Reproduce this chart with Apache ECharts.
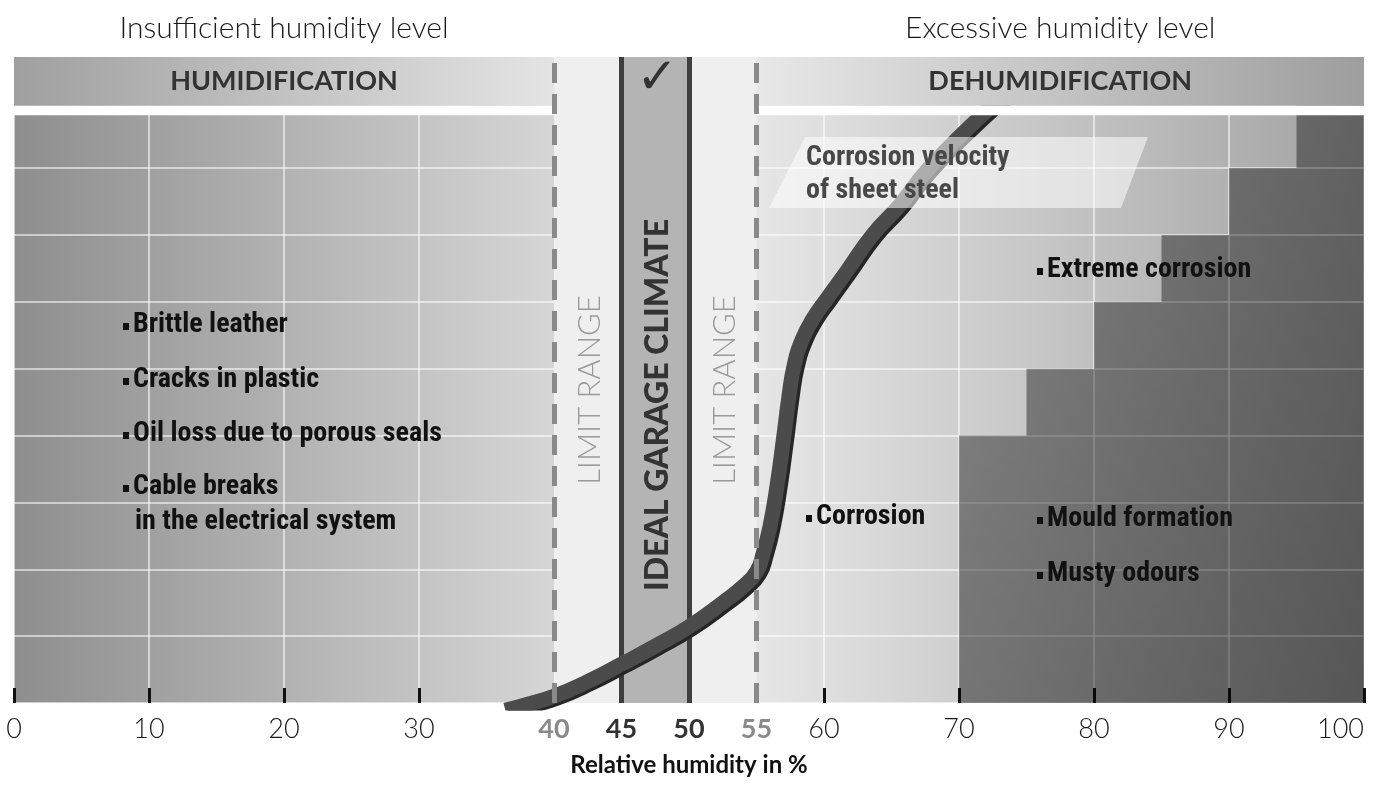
<!DOCTYPE html>
<html><head><meta charset="utf-8">
<script src="https://cdn.jsdelivr.net/npm/echarts@6/dist/echarts.min.js"></script>
<style>html,body{margin:0;padding:0;background:#fff}#c{width:1373px;height:796px}</style>
</head><body><div id="c"></div>
<script>
// ---------- data ----------
const xLabelValues = [0, 10, 20, 30, 40, 45, 50, 55, 60, 70, 80, 90, 100];
const xTickValues = [0, 10, 20, 30, 60, 70, 80, 90, 100];
const limitValues = [40, 55];
const idealValues = [45, 50];
const humidZone = [0, 40];
const dehumidZone = [55, 100];
const limitRanges = [[40, 45], [50, 55]];
const idealRange = [45, 50];
const curveX = [36.4, 38, 40, 42.5, 45, 47.5, 50, 52.5, 54, 55, 55.5, 56, 56.5, 57, 57.4, 57.8, 58.4, 59.2, 60.2, 61.7, 63.6, 65.6, 67.7, 71.7, 73.5];
const curveY = [-0.11, -0.02, 0.1, 0.32, 0.58, 0.85, 1.14, 1.5, 1.74, 1.96, 2.24, 2.64, 3.22, 3.95, 4.58, 5.06, 5.44, 5.75, 6.04, 6.46, 7.0, 7.44, 7.98, 8.79, 9.1];
const stairX = [70, 75, 80, 85, 90, 95, 100];
const stairY = [4, 5, 6, 7, 8, 9, 9];
const topTitles = ['Insufficient humidity level', 'Excessive humidity level'];
const zoneNames = ['HUMIDIFICATION', 'DEHUMIDIFICATION'];
const axisName = 'Relative humidity in %';
const leftNotes = ['Brittle leather', 'Cracks in plastic', 'Oil loss due to porous seals', 'Cable breaks'];
const leftNoteCont = 'in the electrical system';
const rightNotes = ['Extreme corrosion', 'Corrosion', 'Mould formation', 'Musty odours'];
const curveLabel = ['Corrosion velocity', 'of sheet steel'];
const idealLabel = 'IDEAL GARAGE CLIMATE';
const limitLabel = 'LIMIT RANGE';

// ---------- layout constants ----------
const Y_MAX = 9.66, PLOT_TOP = 8.79, BAND_BOTTOM = 8.93;
const LATO = 'Lato, "Open Sans", sans-serif';
const NARROW = '"Liberation Sans Narrow", "Arial Narrow", "Roboto Condensed", "DejaVu Sans Condensed", sans-serif';
const G = echarts.graphic;

const chart = echarts.init(document.getElementById('c'), null, {renderer: 'canvas'});

const curveData = curveX.map((x, i) => [x, curveY[i]]);
const stairData = stairX.map((x, i) => [x, stairY[i]]);

const option = {
  animation: false,
  grid: {
    left: 14, right: 9, top: 57, bottom: 93, show: true, borderWidth: 0,
    backgroundColor: new G.LinearGradient(0, 0, 1, 0, [
      {offset: 0, color: '#8e8e8e'},
      {offset: 0.4, color: '#d6d6d6'},
      {offset: 0.55, color: '#e6e6e6'},
      {offset: 1, color: '#a2a2a2'}
    ])
  },
  xAxis: {
    type: 'value', min: 0, max: 100, interval: 10,
    axisLine: {show: false},
    axisTick: {show: true, inside: true, length: 15, customValues: xTickValues, lineStyle: {color: '#111', width: 3}},
    splitLine: {show: true, lineStyle: {color: 'rgba(255,255,255,0.55)', width: 2}},
    axisLabel: {
      customValues: xLabelValues, margin: 13, fontFamily: LATO, fontWeight: 300, fontSize: 27, color: '#1a1a1a',
      alignMaxLabel: 'right',
      formatter: v => limitValues.includes(v) ? '{lim|' + v + '}' : idealValues.includes(v) ? '{ide|' + v + '}' : '' + v,
      rich: {
        lim: {fontFamily: LATO, fontWeight: 'bold', fontSize: 27, color: '#8a8a8a'},
        ide: {fontFamily: LATO, fontWeight: 'bold', fontSize: 27, color: '#333'}
      }
    },
    name: axisName, nameLocation: 'middle', nameGap: 50,
    nameTextStyle: {fontFamily: LATO, fontWeight: 'bold', fontSize: 24, color: '#111'}
  },
  yAxis: {
    type: 'value', min: 0, max: Y_MAX, interval: 1,
    axisLine: {show: false}, axisTick: {show: false}, axisLabel: {show: false},
    splitLine: {show: true, lineStyle: {color: 'rgba(255,255,255,0.55)', width: 2}}
  },
  series: [
    { // zone backgrounds in the middle column
      type: 'line', data: [], z: 1, silent: true,
      markArea: {
        silent: true, z: 1,
        data: [
          [{xAxis: limitRanges[0][0], yAxis: 0, itemStyle: {color: '#efefef'}}, {xAxis: limitRanges[0][1], yAxis: Y_MAX}],
          [{xAxis: limitRanges[1][0], yAxis: 0, itemStyle: {color: '#efefef'}}, {xAxis: limitRanges[1][1], yAxis: Y_MAX}],
          [{xAxis: idealRange[0], yAxis: 0, itemStyle: {color: '#b4b4b4'}}, {xAxis: idealRange[1], yAxis: Y_MAX}]
        ]
      }
    },
    { // mould staircase
      type: 'line', data: stairData, step: 'end', z: 2, silent: true, symbol: 'none',
      lineStyle: {width: 0},
      areaStyle: {
        opacity: 1,
        color: new G.LinearGradient(0, 0, 1, 1, [
          {offset: 0, color: 'rgba(0,0,0,0.36)'},
          {offset: 1, color: 'rgba(0,0,0,0.47)'}
        ])
      }
    },
    { // ideal range borders
      type: 'line', data: [], z: 3, silent: true,
      markLine: {
        silent: true, z: 3, symbol: 'none', label: {show: false},
        lineStyle: {color: '#3e3e3e', width: 5, type: 'solid'},
        data: idealValues.map(v => ({xAxis: v}))
      }
    },
    { // corrosion velocity curve
      type: 'line', data: curveData, z: 4, silent: true, symbol: 'none',
      smooth: 0.5, clip: true,
      lineStyle: {width: 15, color: '#4b4b4b', shadowColor: '#262626', shadowOffsetX: 3, shadowOffsetY: 2, shadowBlur: 0}
    },
    { // header bands
      type: 'line', data: [], z: 10, silent: true,
      markArea: {
        silent: true, z: 10,
        label: {show: true, position: 'inside', fontFamily: LATO, fontWeight: 'bold', fontSize: 27, color: '#333'},
        data: [
          [{name: zoneNames[0], xAxis: humidZone[0], yAxis: BAND_BOTTOM, itemStyle: {color: new G.LinearGradient(0, 0, 1, 0, [{offset: 0, color: '#a0a0a0'}, {offset: 1, color: '#e4e4e4'}])}}, {xAxis: humidZone[1], yAxis: Y_MAX}],
          [{name: zoneNames[1], xAxis: dehumidZone[0], yAxis: BAND_BOTTOM, itemStyle: {color: new G.LinearGradient(0, 0, 1, 0, [{offset: 0, color: '#e8e8e8'}, {offset: 1, color: '#9e9e9e'}])}}, {xAxis: dehumidZone[1], yAxis: Y_MAX}],
          [{name: '', xAxis: humidZone[0], yAxis: PLOT_TOP, itemStyle: {color: '#fff'}}, {xAxis: humidZone[1], yAxis: BAND_BOTTOM}],
          [{name: '', xAxis: dehumidZone[0], yAxis: PLOT_TOP, itemStyle: {color: '#fff'}}, {xAxis: dehumidZone[1], yAxis: BAND_BOTTOM}]
        ]
      }
    },
    { // limit range dashed borders
      type: 'line', data: [], z: 12, silent: true,
      markLine: {
        silent: true, z: 12, symbol: 'none', label: {show: false},
        lineStyle: {color: '#8a8a8a', width: 5, type: [20, 11]},
        data: limitValues.map(v => ({xAxis: v}))
      }
    }
  ]
};
chart.setOption(option);

// ---------- text annotations ----------
const px = (x, y) => chart.convertToPixel({gridIndex: 0}, [x, y]);
const humidCx = px((humidZone[0] + humidZone[1]) / 2, 0)[0];
const dehumidCx = px((dehumidZone[0] + dehumidZone[1]) / 2, 0)[0];
const idealCx = px((idealRange[0] + idealRange[1]) / 2, 0)[0];
const lim1Cx = px((limitRanges[0][0] + limitRanges[0][1]) / 2, 0)[0];
const lim2Cx = px((limitRanges[1][0] + limitRanges[1][1]) / 2, 0)[0];

function txt(text, x, y, o) {
  return {type: 'text', x, y, z: 100, silent: true,
    style: Object.assign({text, fill: '#111', fontFamily: NARROW, fontWeight: 'bold', fontSize: 28, align: 'left', verticalAlign: 'middle'}, o || {})};
}
function note(text, x, y) {
  return [
    {type: 'rect', z: 100, silent: true, shape: {x: x, y: y - 2, width: 6, height: 7}, style: {fill: '#111'}},
    txt(text, x + 10, y)
  ];
}
function rot(el) { el.rotation = Math.PI / 2; return el; }

const graphics = [
  txt(topTitles[0], humidCx, 28, {fontFamily: LATO, fontWeight: 300, fontSize: 30, align: 'center', fill: '#1a1a1a'}),
  txt(topTitles[1], dehumidCx, 28, {fontFamily: LATO, fontWeight: 300, fontSize: 30, align: 'center', fill: '#1a1a1a'}),
  txt('\u2713', idealCx + 2, 80, {fontFamily: '"DejaVu Sans", sans-serif', fontWeight: 'bold', fontSize: 50, align: 'center', fill: '#333'}),
  rot(txt(idealLabel, idealCx + 2, 405, {fontFamily: LATO, fontWeight: 900, fontSize: 32, align: 'center', fill: '#333'})),
  rot(txt(limitLabel, lim1Cx + 2, 390, {fontFamily: LATO, fontWeight: 300, fontSize: 31, align: 'center', fill: '#9a9a9a'})),
  rot(txt(limitLabel, lim2Cx + 2, 390, {fontFamily: LATO, fontWeight: 300, fontSize: 31, align: 'center', fill: '#9a9a9a'})),
  {type: 'polygon', z: 99, silent: true, shape: {points: [[805, 137], [1148, 137], [1121, 208], [769, 208]]}, style: {fill: 'rgba(255,255,255,0.55)'}},
  txt(curveLabel[0], 806, 158, {fill: '#484848'}),
  txt(curveLabel[1], 806, 191, {fill: '#484848'}),
  txt(leftNoteCont, 135, 522)
];
const leftY = [325, 380, 434, 487];
leftNotes.forEach((t, i) => graphics.push(...note(t, 123, leftY[i])));
const rightPos = [[1037, 270], [806, 517], [1037, 519], [1037, 574]];
rightNotes.forEach((t, i) => graphics.push(...note(t, rightPos[i][0], rightPos[i][1])));

chart.setOption({graphic: graphics});
</script>
</body></html>
